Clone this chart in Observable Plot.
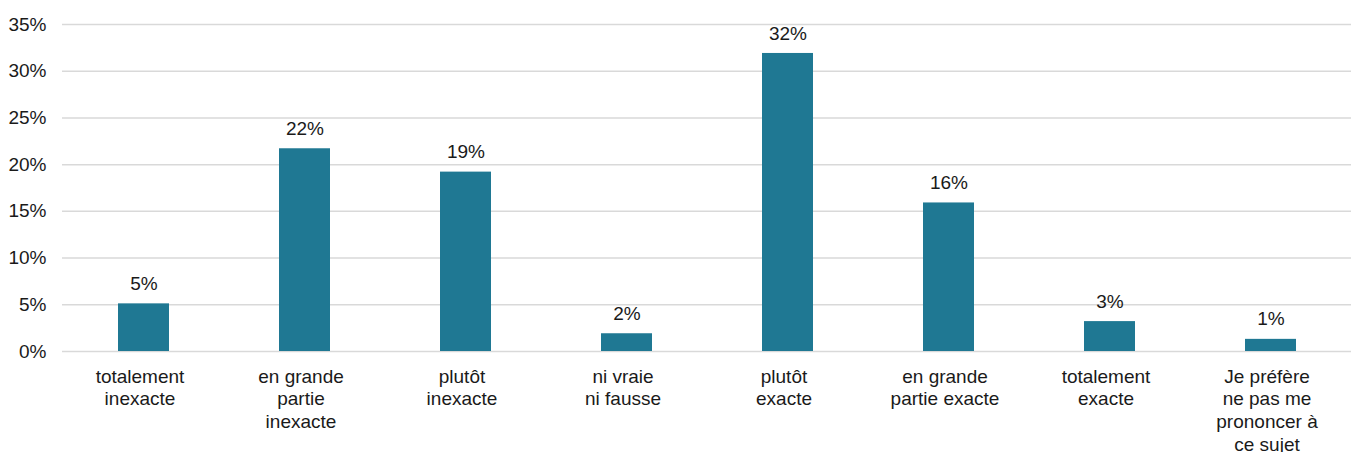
<!DOCTYPE html>
<html>
<head>
<meta charset="utf-8">
<script src="https://cdn.jsdelivr.net/npm/d3@7"></script>
<script src="https://cdn.jsdelivr.net/npm/@observablehq/plot@0.6"></script>
<style>
  html, body { margin: 0; padding: 0; background: #fff; }
  #chart svg { display: block; }
</style>
</head>
<body>
<div id="chart"></div>
<script>
// Response categories (line breaks as shown under each bar)
const categories = [
  "totalement\ninexacte",
  "en grande\npartie\ninexacte",
  "plutôt\ninexacte",
  "ni vraie\nni fausse",
  "plutôt\nexacte",
  "en grande\npartie exacte",
  "totalement\nexacte",
  "Je préfère\nne pas me\nprononcer à\nce sujet"
];
// Share of respondents per category
const shares = [0.051, 0.217, 0.192, 0.019, 0.319, 0.159, 0.032, 0.013];
// Y axis ticks
const yTicks = [0, 0.05, 0.10, 0.15, 0.20, 0.25, 0.30, 0.35];

const data = categories.map((c, i) => ({category: c, share: shares[i]}));
const pct = d3.format(".0%");

const chart = Plot.plot({
  width: 1354,
  height: 452,
  marginTop: 24,
  marginBottom: 101,
  marginLeft: 62,
  marginRight: 3,
  style: {fontFamily: "Liberation Sans, Arial, sans-serif", fontSize: "19px", color: "#1a1a1a", background: "#fff"},
  x: {domain: categories, paddingInner: 0.684, paddingOuter: 0.342, label: null},
  y: {domain: [0, 0.35], label: null},
  marks: [
    Plot.gridY(yTicks, {stroke: "#d9d9d9", strokeOpacity: 1, strokeWidth: 1.5}),
    Plot.barY(data, {x: "category", y: "share", fill: "#1f7893"}),
    Plot.text(data, {x: "category", y: "share", text: d => pct(d.share), dy: -20, fontSize: 19, fill: "#1a1a1a"}),
    Plot.axisY({ticks: yTicks, tickFormat: pct, tickSize: 0, tickPadding: 16, fontSize: 19, label: null}),
    Plot.axisX({tickSize: 0, tickPadding: 15, dx: -4, fontSize: 19, lineHeight: 1.2, label: null})
  ]
});

document.getElementById("chart").append(chart);
</script>
</body>
</html>
